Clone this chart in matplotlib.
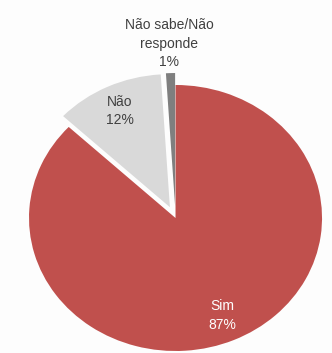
import matplotlib.pyplot as plt
import numpy as np

# --- data ---
categories = ["Sim", "Não", "Não sabe/Não\nresponde"]
shares = [87, 12, 1]
colors = ["#C0504D", "#D9D9D9", "#7F7F7F"]
text_colors = ["white", "#404040", "#404040"]
explode = [0, 0.09, 0.09]
label_dist = [0.8, 0.8, 1.22]

plt.rcParams['font.family'] = ['Liberation Sans', 'DejaVu Sans']

fig = plt.figure(figsize=(3.32, 3.53), dpi=100)
fig.patch.set_facecolor("#FDFDFD")
ax = fig.add_axes([0, 0, 1, 1])

wedges, _ = ax.pie(shares, colors=colors, explode=explode, startangle=90,
                   counterclock=False, wedgeprops=dict(linewidth=0))

# category + percent labels, placed along each wedge's mid angle
for w, name, pct, tc, d in zip(wedges, categories, shares, text_colors, label_dist):
    ang = np.deg2rad((w.theta1 + w.theta2) / 2)
    cx, cy = w.center
    ax.text(cx + d * w.r * np.cos(ang), cy + d * w.r * np.sin(ang),
            f"{name}\n{pct}%", ha="center", va="center",
            fontsize=10, color=tc, linespacing=1.4)

# slightly wider than tall, as in the original layout
ax.set_aspect("auto")
ax.set_xlim(-1.198, 1.068)
ax.set_ylim(-1.015, 1.639)
ax.axis("off")

fig.savefig("out.png", dpi=100, facecolor=fig.get_facecolor())
